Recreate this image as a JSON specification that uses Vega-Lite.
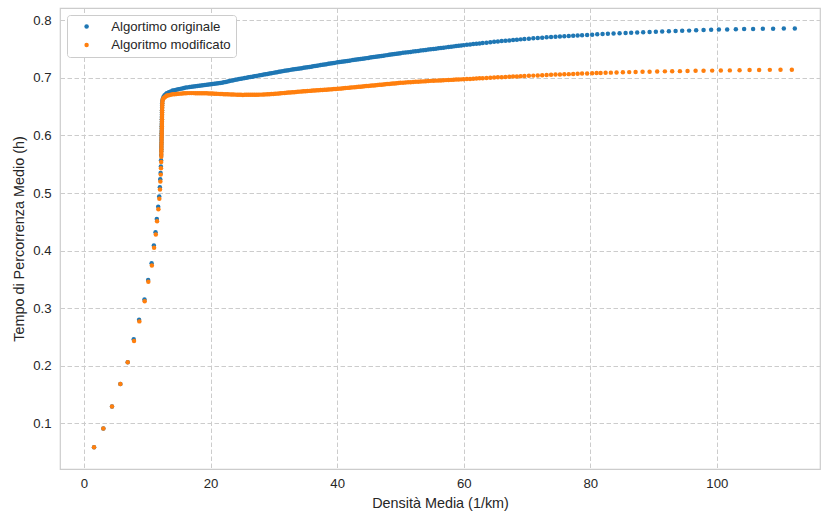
{
  "$schema": "https://vega.github.io/schema/vega-lite/v6.json",
  "width": 760,
  "height": 461,
  "autosize": {"type": "none"},
  "padding": {"left": 60, "top": 8, "right": 2, "bottom": 44},
  "background": "white",
  "datasets": {
    "originale": [
      {"x":1.58,"y":0.0583},{"x":3.05,"y":0.0908},{"x":4.42,"y":0.129},{"x":5.74,"y":0.168},{"x":6.9,"y":0.206},{"x":7.85,"y":0.246},{"x":8.7,"y":0.28},{"x":9.55,"y":0.315},{"x":10.13,"y":0.349},{"x":10.68,"y":0.378},{"x":11.03,"y":0.409},{"x":11.3,"y":0.432},{"x":11.5,"y":0.455},{"x":11.72,"y":0.476},{"x":11.88,"y":0.494},{"x":11.98,"y":0.51},{"x":12.04,"y":0.524},{"x":12.1,"y":0.535},{"x":12.14,"y":0.546},{"x":12.17,"y":0.557},{"x":12.19,"y":0.566},
      {"x":12.2,"y":0.572},{"x":12.21,"y":0.576},{"x":12.21,"y":0.58},{"x":12.22,"y":0.584},{"x":12.23,"y":0.588},{"x":12.23,"y":0.592},{"x":12.24,"y":0.596},{"x":12.25,"y":0.6},{"x":12.25,"y":0.604},{"x":12.26,"y":0.608},{"x":12.27,"y":0.612},{"x":12.27,"y":0.616},{"x":12.28,"y":0.62},{"x":12.29,"y":0.624},{"x":12.29,"y":0.628},{"x":12.3,"y":0.632},{"x":12.31,"y":0.636},{"x":12.31,"y":0.64},{"x":12.32,"y":0.644},{"x":12.33,"y":0.648},{"x":12.34,"y":0.652},{"x":12.35,"y":0.656},{"x":12.37,"y":0.66},
      {"x":12.45,"y":0.664},{"x":12.55,"y":0.667},{"x":12.7,"y":0.6695},{"x":12.85,"y":0.671},{"x":13.0,"y":0.6725},
      {"x":13.1,"y":0.6735},{"x":13.4,"y":0.675},{"x":13.7,"y":0.6765},{"x":14.0,"y":0.678},{"x":14.3,"y":0.6788},{"x":14.6,"y":0.6795},{"x":14.9,"y":0.6803},{"x":15.2,"y":0.681},{"x":15.5,"y":0.6818},{"x":15.8,"y":0.6825},
      {"x":16.1,"y":0.6832},{"x":16.4,"y":0.6836},{"x":16.7,"y":0.6841},{"x":17.0,"y":0.6845},{"x":17.3,"y":0.685},{"x":17.6,"y":0.6854},{"x":17.9,"y":0.6859},{"x":18.2,"y":0.6863},{"x":18.5,"y":0.6868},{"x":18.8,"y":0.6872},{"x":19.1,"y":0.6877},{"x":19.4,"y":0.6881},{"x":19.7,"y":0.6886},{"x":20.0,"y":0.689},
      {"x":20.3,"y":0.6895},{"x":20.6,"y":0.6899},{"x":20.9,"y":0.6904},{"x":21.2,"y":0.6908},{"x":21.5,"y":0.6913},{"x":21.8,"y":0.6917},{"x":22.1,"y":0.6923},{"x":22.4,"y":0.693},{"x":22.7,"y":0.6938},{"x":23.0,"y":0.6945},{"x":23.3,"y":0.6953},{"x":23.6,"y":0.696},{"x":23.9,"y":0.6968},
      {"x":24.2,"y":0.6974},{"x":24.5,"y":0.698},{"x":24.8,"y":0.6986},{"x":25.1,"y":0.6992},{"x":25.4,"y":0.6998},{"x":25.7,"y":0.7004},{"x":26.0,"y":0.701},{"x":26.3,"y":0.7016},{"x":26.6,"y":0.7022},{"x":26.9,"y":0.7028},{"x":27.2,"y":0.7034},{"x":27.5,"y":0.704},{"x":27.8,"y":0.7046},
      {"x":28.1,"y":0.7052},{"x":28.4,"y":0.7058},{"x":28.7,"y":0.7064},{"x":29.0,"y":0.707},{"x":29.3,"y":0.7076},{"x":29.6,"y":0.7082},{"x":29.9,"y":0.7088},{"x":30.2,"y":0.7094},{"x":30.5,"y":0.71},{"x":30.8,"y":0.7106},{"x":31.1,"y":0.7112},{"x":31.4,"y":0.7118},{"x":31.7,"y":0.7124},
      {"x":32.0,"y":0.713},{"x":32.3,"y":0.7135},{"x":32.6,"y":0.714},{"x":32.9,"y":0.7145},{"x":33.2,"y":0.715},{"x":33.5,"y":0.7155},{"x":33.8,"y":0.716},{"x":34.1,"y":0.7165},{"x":34.4,"y":0.717},{"x":34.7,"y":0.7175},
      {"x":35.0,"y":0.718},{"x":35.3,"y":0.7185},{"x":35.6,"y":0.7191},{"x":35.9,"y":0.7196},{"x":36.2,"y":0.7202},{"x":36.5,"y":0.7207},{"x":36.8,"y":0.7212},{"x":37.1,"y":0.7218},{"x":37.4,"y":0.7223},{"x":37.7,"y":0.7229},{"x":38.0,"y":0.7234},{"x":38.3,"y":0.7239},{"x":38.6,"y":0.7245},{"x":38.9,"y":0.725},{"x":39.2,"y":0.7256},{"x":39.5,"y":0.7261},{"x":39.8,"y":0.7266},
      {"x":40.1,"y":0.7272},{"x":40.4,"y":0.7276},{"x":40.7,"y":0.7281},{"x":41.0,"y":0.7286},{"x":41.3,"y":0.7291},{"x":41.6,"y":0.7296},{"x":41.9,"y":0.73},{"x":42.2,"y":0.7305},{"x":42.5,"y":0.731},{"x":42.8,"y":0.7315},{"x":43.1,"y":0.732},{"x":43.4,"y":0.7324},{"x":43.7,"y":0.7329},{"x":44.0,"y":0.7334},{"x":44.3,"y":0.7339},{"x":44.6,"y":0.7344},{"x":44.9,"y":0.7348},
      {"x":45.2,"y":0.7353},{"x":45.5,"y":0.7358},{"x":45.8,"y":0.7363},{"x":46.1,"y":0.7368},{"x":46.4,"y":0.7372},{"x":46.7,"y":0.7377},{"x":47.0,"y":0.7382},{"x":47.3,"y":0.7387},{"x":47.6,"y":0.7392},{"x":47.9,"y":0.7396},{"x":48.2,"y":0.7401},{"x":48.5,"y":0.7406},{"x":48.8,"y":0.7411},{"x":49.1,"y":0.7416},{"x":49.4,"y":0.742},{"x":49.7,"y":0.7425},{"x":50.0,"y":0.743},
      {"x":50.4,"y":0.7436},{"x":50.8,"y":0.7441},{"x":51.2,"y":0.7447},{"x":51.6,"y":0.7452},{"x":52.0,"y":0.7458},{"x":52.4,"y":0.7464},{"x":52.8,"y":0.7469},{"x":53.2,"y":0.7475},{"x":53.6,"y":0.748},{"x":54.0,"y":0.7486},{"x":54.4,"y":0.7492},{"x":54.8,"y":0.7497},{"x":55.2,"y":0.7503},{"x":55.6,"y":0.7508},{"x":56.0,"y":0.7514},{"x":56.4,"y":0.752},{"x":56.8,"y":0.7525},{"x":57.2,"y":0.7531},{"x":57.6,"y":0.7536},{"x":58.0,"y":0.7542},{"x":58.4,"y":0.7548},{"x":58.8,"y":0.7553},{"x":59.2,"y":0.7559},{"x":59.6,"y":0.7564},{"x":60.0,"y":0.757},
      {"x":60.5,"y":0.7576},{"x":61.0,"y":0.7582},{"x":61.5,"y":0.7588},{"x":62.0,"y":0.7594},{"x":62.5,"y":0.76},{"x":63.0,"y":0.7606},{"x":63.6,"y":0.7613},{"x":64.2,"y":0.762},{"x":64.8,"y":0.7628},{"x":65.4,"y":0.7634},{"x":66.0,"y":0.764},{"x":66.6,"y":0.7646},{"x":67.2,"y":0.7652},{"x":67.8,"y":0.7658},{"x":68.4,"y":0.7664},{"x":69.0,"y":0.767},{"x":69.6,"y":0.7676},{"x":70.3,"y":0.7682},{"x":71.0,"y":0.7688},{"x":71.7,"y":0.7694},{"x":72.4,"y":0.7699},{"x":73.1,"y":0.7705},{"x":73.8,"y":0.771},{"x":74.5,"y":0.7716},{"x":75.2,"y":0.7721},{"x":75.9,"y":0.7725},{"x":76.6,"y":0.773},{"x":77.3,"y":0.7734},{"x":78.0,"y":0.7738},{"x":78.7,"y":0.7742},{"x":79.5,"y":0.7747},{"x":80.3,"y":0.7752},{"x":81.1,"y":0.7757},
      {"x":81.94,"y":0.7762},{"x":82.78,"y":0.7767},{"x":83.68,"y":0.7772},{"x":84.63,"y":0.7778},{"x":85.58,"y":0.7782},{"x":86.46,"y":0.7786},{"x":87.41,"y":0.779},{"x":88.36,"y":0.7793},{"x":89.37,"y":0.7797},{"x":90.36,"y":0.7801},{"x":91.36,"y":0.7805},{"x":92.42,"y":0.781},{"x":93.48,"y":0.7814},{"x":94.52,"y":0.7818},{"x":95.62,"y":0.7822},{"x":96.73,"y":0.7827},{"x":97.9,"y":0.7832},{"x":99.1,"y":0.7836},{"x":100.32,"y":0.7841},{"x":101.63,"y":0.7843},{"x":103.0,"y":0.7846},{"x":104.31,"y":0.7849},{"x":105.73,"y":0.7851},{"x":107.27,"y":0.7853},{"x":108.89,"y":0.7855},{"x":110.58,"y":0.7858},{"x":112.32,"y":0.786}
    ],
    "modificato": [
      {"x":1.58,"y":0.0583},{"x":3.05,"y":0.0908},{"x":4.42,"y":0.129},{"x":5.74,"y":0.168},{"x":6.9,"y":0.206},{"x":7.9,"y":0.243},{"x":8.74,"y":0.277},{"x":9.58,"y":0.312},{"x":10.16,"y":0.346},{"x":10.72,"y":0.374},{"x":11.07,"y":0.405},{"x":11.34,"y":0.428},{"x":11.54,"y":0.451},{"x":11.75,"y":0.472},{"x":11.9,"y":0.49},{"x":12.0,"y":0.506},{"x":12.06,"y":0.52},{"x":12.12,"y":0.532},{"x":12.16,"y":0.543},{"x":12.19,"y":0.554},{"x":12.21,"y":0.563},
      {"x":12.22,"y":0.568},{"x":12.22,"y":0.572},{"x":12.23,"y":0.576},{"x":12.24,"y":0.58},{"x":12.24,"y":0.584},{"x":12.25,"y":0.588},{"x":12.26,"y":0.592},{"x":12.26,"y":0.596},{"x":12.27,"y":0.6},{"x":12.28,"y":0.604},{"x":12.28,"y":0.608},{"x":12.29,"y":0.612},{"x":12.3,"y":0.616},{"x":12.3,"y":0.62},{"x":12.31,"y":0.624},{"x":12.32,"y":0.628},{"x":12.32,"y":0.632},{"x":12.33,"y":0.636},{"x":12.34,"y":0.64},{"x":12.34,"y":0.644},{"x":12.35,"y":0.648},{"x":12.36,"y":0.652},{"x":12.37,"y":0.656},{"x":12.39,"y":0.66},
      {"x":12.45,"y":0.6625},{"x":12.55,"y":0.6645},{"x":12.7,"y":0.666},{"x":12.85,"y":0.6675},{"x":13.0,"y":0.6688},
      {"x":13.1,"y":0.6693},{"x":13.4,"y":0.67},{"x":13.7,"y":0.6708},{"x":14.0,"y":0.6715},{"x":14.3,"y":0.6718},{"x":14.6,"y":0.6721},{"x":14.9,"y":0.6724},{"x":15.2,"y":0.6727},{"x":15.5,"y":0.673},{"x":15.8,"y":0.6733},
      {"x":16.1,"y":0.6735},{"x":16.4,"y":0.6736},{"x":16.7,"y":0.6736},{"x":17.0,"y":0.6736},{"x":17.3,"y":0.6736},{"x":17.6,"y":0.6735},{"x":17.9,"y":0.6735},{"x":18.2,"y":0.6735},{"x":18.5,"y":0.6734},{"x":18.8,"y":0.6733},{"x":19.1,"y":0.6732},{"x":19.4,"y":0.6732},{"x":19.7,"y":0.6731},{"x":20.0,"y":0.673},
      {"x":20.3,"y":0.6728},{"x":20.6,"y":0.6726},{"x":20.9,"y":0.6725},{"x":21.2,"y":0.6723},{"x":21.5,"y":0.6721},{"x":21.8,"y":0.6719},{"x":22.1,"y":0.6718},{"x":22.4,"y":0.6716},{"x":22.7,"y":0.6715},{"x":23.0,"y":0.6714},{"x":23.3,"y":0.6713},{"x":23.6,"y":0.6711},{"x":23.9,"y":0.671},
      {"x":24.2,"y":0.6709},{"x":24.5,"y":0.6707},{"x":24.8,"y":0.6706},{"x":25.1,"y":0.6705},{"x":25.4,"y":0.6706},{"x":25.7,"y":0.6706},{"x":26.0,"y":0.6707},{"x":26.3,"y":0.6707},{"x":26.6,"y":0.6708},{"x":26.9,"y":0.6708},{"x":27.2,"y":0.6709},{"x":27.5,"y":0.6709},{"x":27.8,"y":0.671},
      {"x":28.1,"y":0.671},{"x":28.4,"y":0.6712},{"x":28.7,"y":0.6714},{"x":29.0,"y":0.6716},{"x":29.3,"y":0.6718},{"x":29.6,"y":0.672},{"x":29.9,"y":0.6721},{"x":30.2,"y":0.6724},{"x":30.5,"y":0.6727},{"x":30.8,"y":0.673},{"x":31.1,"y":0.6733},{"x":31.4,"y":0.6736},{"x":31.7,"y":0.6739},
      {"x":32.0,"y":0.6742},{"x":32.3,"y":0.6745},{"x":32.6,"y":0.6748},{"x":32.9,"y":0.675},{"x":33.2,"y":0.6753},{"x":33.5,"y":0.6756},{"x":33.8,"y":0.6759},{"x":34.1,"y":0.6762},{"x":34.4,"y":0.6764},{"x":34.7,"y":0.6767},
      {"x":35.0,"y":0.677},{"x":35.3,"y":0.6772},{"x":35.6,"y":0.6775},{"x":35.9,"y":0.6777},{"x":36.2,"y":0.678},{"x":36.5,"y":0.6782},{"x":36.8,"y":0.6784},{"x":37.1,"y":0.6787},{"x":37.4,"y":0.6789},{"x":37.7,"y":0.6792},{"x":38.0,"y":0.6794},{"x":38.3,"y":0.6796},{"x":38.6,"y":0.6799},{"x":38.9,"y":0.6801},{"x":39.2,"y":0.6804},{"x":39.5,"y":0.6806},{"x":39.8,"y":0.6808},
      {"x":40.1,"y":0.6811},{"x":40.4,"y":0.6814},{"x":40.7,"y":0.6817},{"x":41.0,"y":0.682},{"x":41.3,"y":0.6824},{"x":41.6,"y":0.6827},{"x":41.9,"y":0.683},{"x":42.2,"y":0.6833},{"x":42.5,"y":0.6836},{"x":42.8,"y":0.6839},{"x":43.1,"y":0.6842},{"x":43.4,"y":0.6845},{"x":43.7,"y":0.6848},{"x":44.0,"y":0.6852},{"x":44.3,"y":0.6855},{"x":44.6,"y":0.6858},{"x":44.9,"y":0.6861},
      {"x":45.2,"y":0.6864},{"x":45.5,"y":0.6867},{"x":45.8,"y":0.687},{"x":46.1,"y":0.6874},{"x":46.4,"y":0.6877},{"x":46.7,"y":0.688},{"x":47.0,"y":0.6883},{"x":47.3,"y":0.6886},{"x":47.6,"y":0.6889},{"x":47.9,"y":0.6893},{"x":48.2,"y":0.6896},{"x":48.5,"y":0.6899},{"x":48.8,"y":0.6902},{"x":49.1,"y":0.6905},{"x":49.4,"y":0.6909},{"x":49.7,"y":0.6912},{"x":50.0,"y":0.6915},
      {"x":50.4,"y":0.6918},{"x":50.8,"y":0.6921},{"x":51.2,"y":0.6923},{"x":51.6,"y":0.6926},{"x":52.0,"y":0.6929},{"x":52.4,"y":0.6932},{"x":52.8,"y":0.6935},{"x":53.2,"y":0.6937},{"x":53.6,"y":0.694},{"x":54.0,"y":0.6943},{"x":54.4,"y":0.6946},{"x":54.8,"y":0.6949},{"x":55.2,"y":0.6951},{"x":55.6,"y":0.6953},{"x":56.0,"y":0.6955},{"x":56.4,"y":0.6957},{"x":56.8,"y":0.696},{"x":57.2,"y":0.6962},{"x":57.6,"y":0.6964},{"x":58.0,"y":0.6966},{"x":58.4,"y":0.6968},{"x":58.8,"y":0.6971},{"x":59.2,"y":0.6973},{"x":59.6,"y":0.6975},{"x":60.0,"y":0.6977},
      {"x":60.5,"y":0.698},{"x":61.0,"y":0.6983},{"x":61.5,"y":0.6986},{"x":62.0,"y":0.6989},{"x":62.5,"y":0.6993},{"x":63.0,"y":0.6996},{"x":63.6,"y":0.7},{"x":64.2,"y":0.7003},{"x":64.8,"y":0.7007},{"x":65.4,"y":0.701},{"x":66.0,"y":0.7013},{"x":66.6,"y":0.7017},{"x":67.2,"y":0.702},{"x":67.8,"y":0.7023},{"x":68.4,"y":0.7026},{"x":69.0,"y":0.7029},{"x":69.6,"y":0.7033},{"x":70.3,"y":0.7037},{"x":71.0,"y":0.704},{"x":71.7,"y":0.7044},{"x":72.4,"y":0.7047},{"x":73.1,"y":0.7051},{"x":73.8,"y":0.7054},{"x":74.5,"y":0.7058},{"x":75.2,"y":0.7061},{"x":75.9,"y":0.7064},{"x":76.6,"y":0.7066},{"x":77.3,"y":0.7069},{"x":78.0,"y":0.7072},{"x":78.7,"y":0.7075},{"x":79.5,"y":0.7078},{"x":80.3,"y":0.7081},{"x":81.0,"y":0.7084},
      {"x":81.63,"y":0.7086},{"x":82.42,"y":0.7089},{"x":83.25,"y":0.7092},{"x":84.15,"y":0.7095},{"x":85.15,"y":0.7098},{"x":86.15,"y":0.7101},{"x":87.16,"y":0.7103},{"x":88.26,"y":0.7106},{"x":89.37,"y":0.7108},{"x":90.57,"y":0.7111},{"x":91.79,"y":0.7114},{"x":92.94,"y":0.7116},{"x":94.16,"y":0.7118},{"x":95.37,"y":0.7121},{"x":96.64,"y":0.7123},{"x":97.9,"y":0.7125},{"x":99.26,"y":0.7127},{"x":100.63,"y":0.7129},{"x":102.05,"y":0.7131},{"x":103.59,"y":0.7134},{"x":105.17,"y":0.7136},{"x":106.68,"y":0.7138},{"x":108.37,"y":0.714},{"x":110.06,"y":0.7142},{"x":111.85,"y":0.7144}
    ]
  },
  "encoding": {
    "x": {
      "field": "x",
      "type": "quantitative",
      "scale": {"domain": [-3.8, 116.3], "nice": false, "zero": false},
      "axis": {"title": "Densità Media (1/km)", "values": [0, 20, 40, 60, 80, 100], "format": "d"}
    },
    "y": {
      "field": "y",
      "type": "quantitative",
      "scale": {"domain": [0.0205, 0.8215], "nice": false, "zero": false},
      "axis": {"title": "Tempo di Percorrenza Medio (h)", "values": [0.1, 0.2, 0.3, 0.4, 0.5, 0.6, 0.7, 0.8], "format": ".1f"}
    }
  },
  "layer": [
    {
      "data": {"name": "originale"},
      "mark": {"type": "circle", "size": 20, "opacity": 1},
      "encoding": {
        "color": {
          "datum": "Algortimo originale",
          "type": "nominal",
          "scale": {"domain": ["Algortimo originale", "Algoritmo modificato"], "range": ["#1f77b4", "#ff7f0e"]},
          "legend": {
            "title": null,
            "orient": "none",
            "legendX": 7,
            "legendY": 7,
            "padding": 5,
            "symbolOffset": 8,
            "labelOffset": 18,
            "rowPadding": 4.5,
            "symbolSize": 20,
            "symbolType": "circle",
            "strokeColor": "#cccccc",
            "fillColor": "white",
            "cornerRadius": 3,
            "labelFontSize": 13.2,
            "labelFont": "Liberation Sans",
            "labelColor": "#262626"
          }
        }
      }
    },
    {
      "data": {"name": "modificato"},
      "mark": {"type": "circle", "size": 20, "opacity": 1},
      "encoding": {
        "color": {"datum": "Algoritmo modificato", "type": "nominal"}
      }
    }
  ],
  "config": {
    "font": "Liberation Sans",
    "view": {"stroke": "#cccccc", "strokeWidth": 1.2},
    "axis": {
      "domain": false,
      "ticks": false,
      "grid": true,
      "gridColor": "#cccccc",
      "gridDash": [4.5, 2.5],
      "gridWidth": 1,
      "labelFont": "Liberation Sans",
      "labelFontSize": 13.2,
      "labelColor": "#262626",
      "titleFont": "Liberation Sans",
      "titleFontSize": 14.4,
      "titleFontWeight": "normal",
      "titleColor": "#262626"
    },
    "axisX": {"labelPadding": 8, "titlePadding": 7},
    "axisY": {"labelPadding": 9, "titlePadding": 6}
  }
}
